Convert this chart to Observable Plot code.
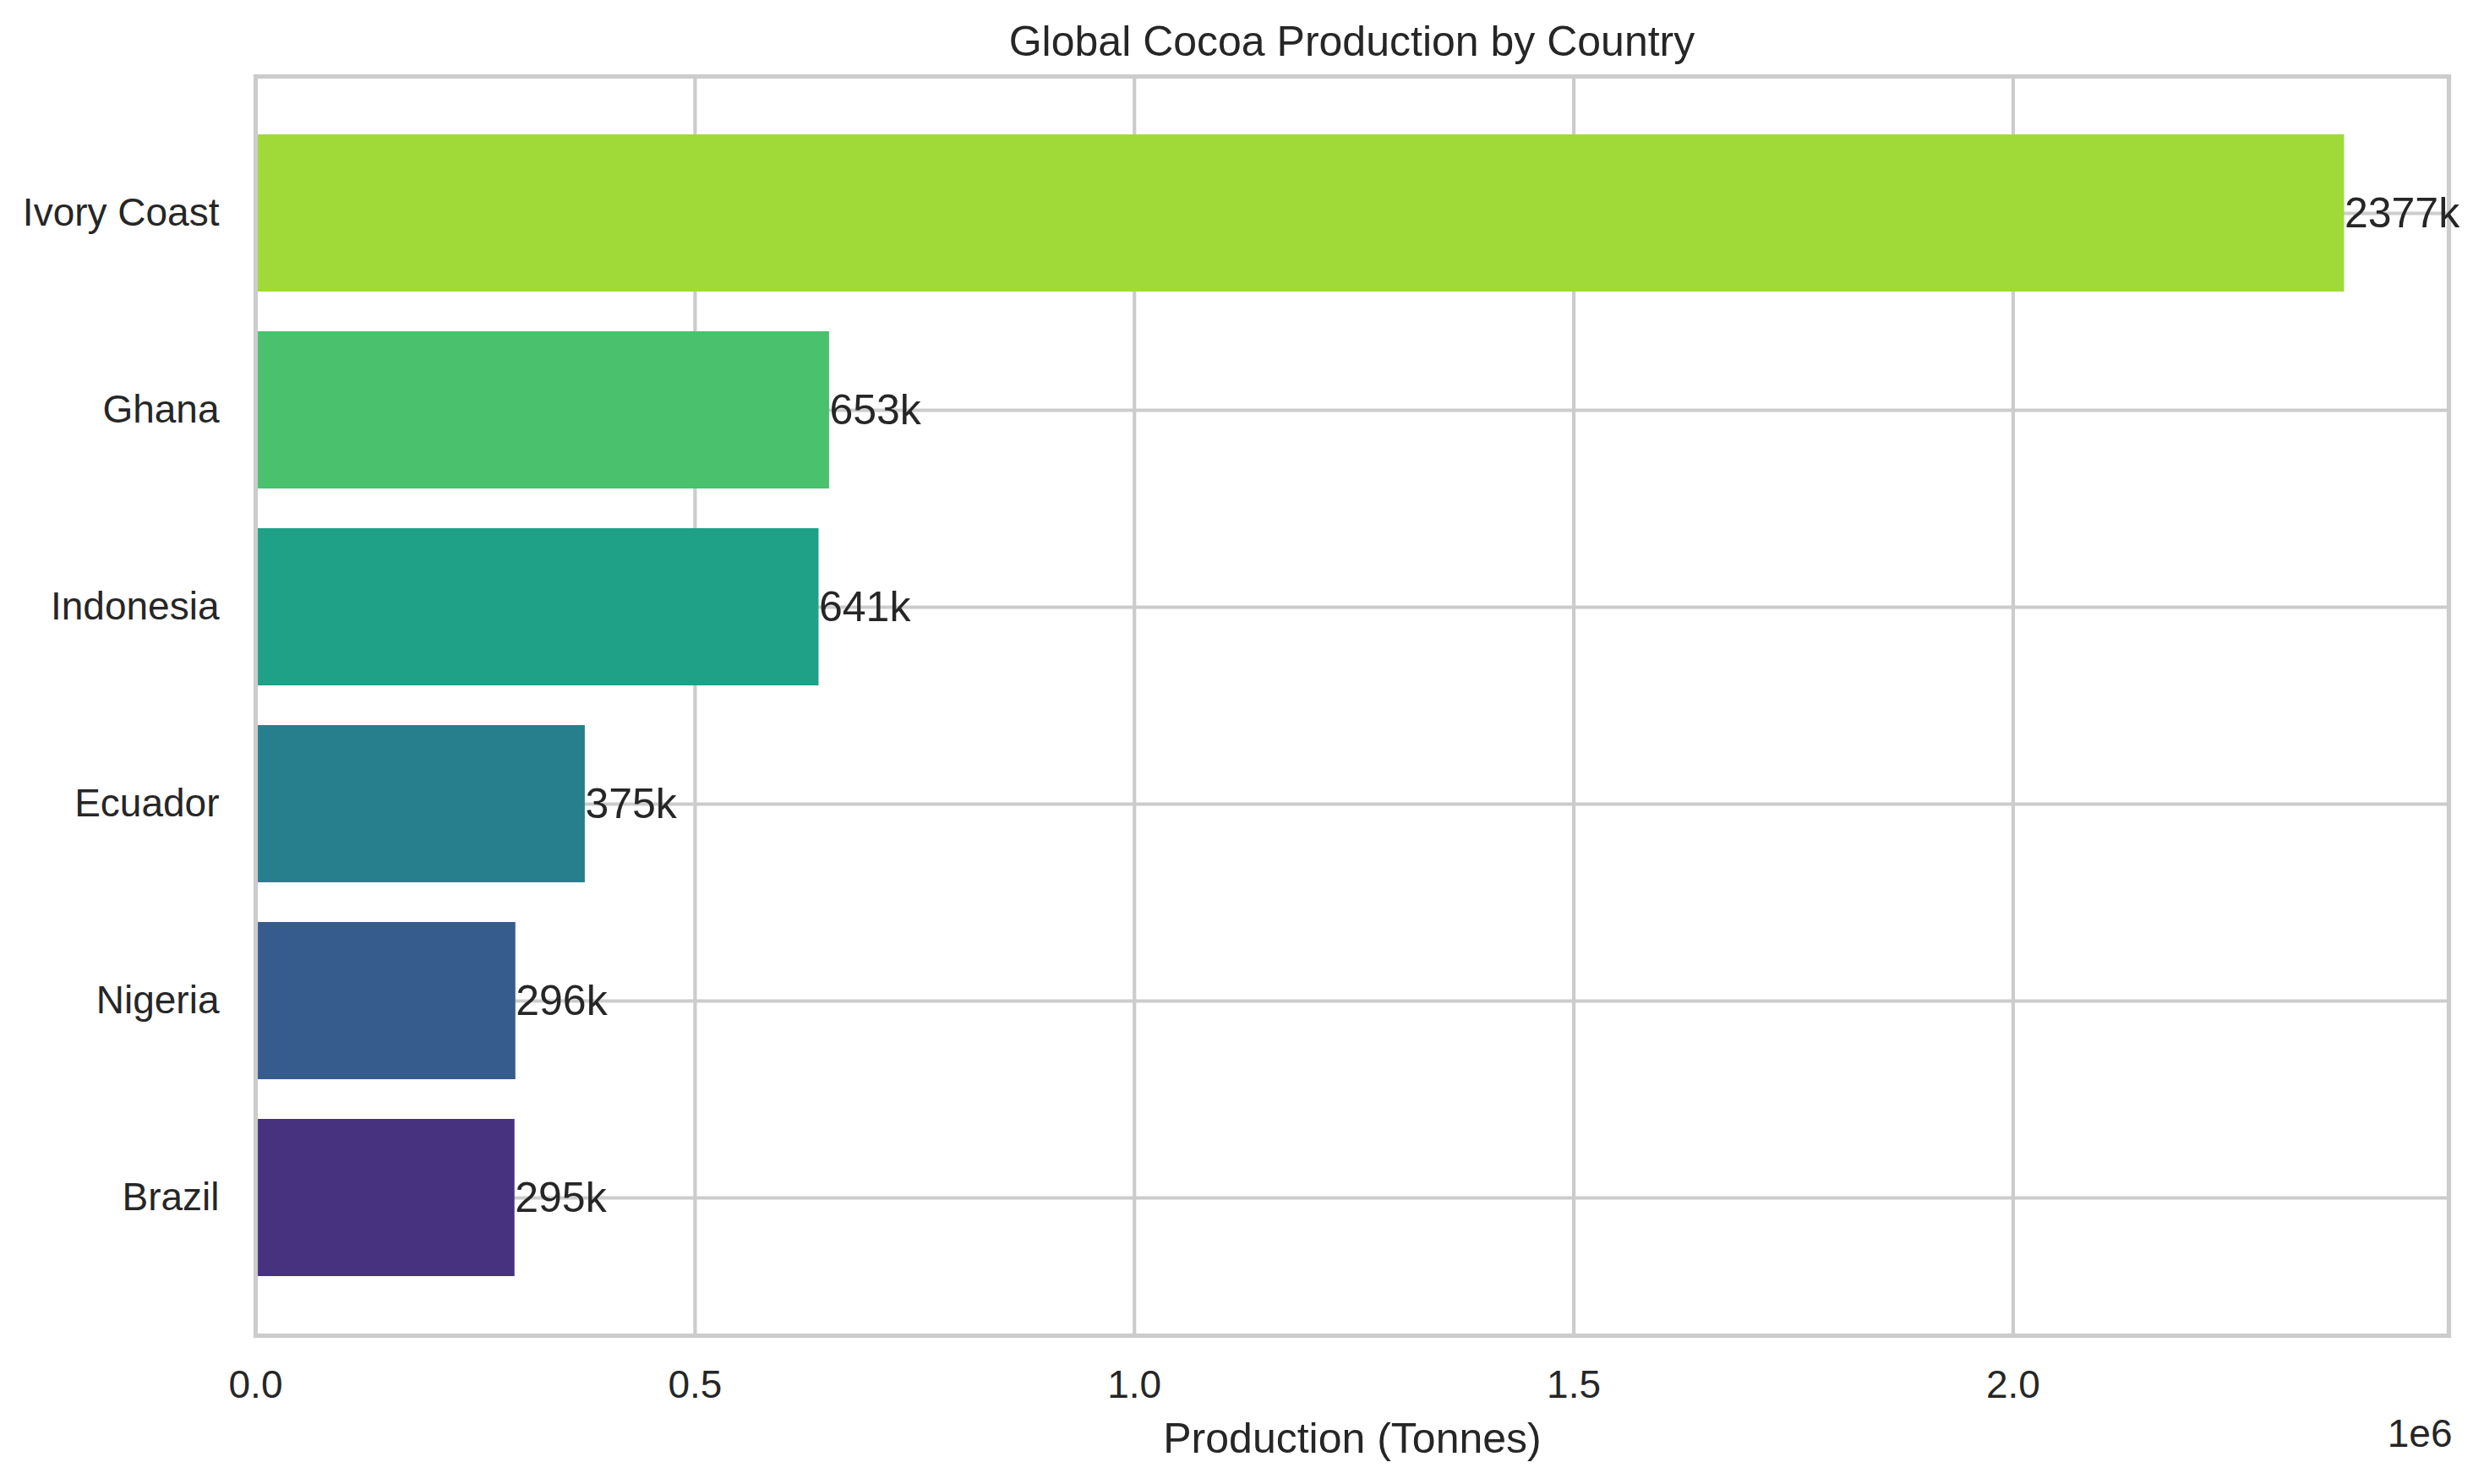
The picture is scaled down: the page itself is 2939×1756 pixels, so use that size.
<!DOCTYPE html>
<html><head><meta charset="utf-8">
<script src="https://cdn.jsdelivr.net/npm/d3@7"></script>
<script src="https://cdn.jsdelivr.net/npm/@observablehq/plot@0.6"></script>
<style>
body{margin:0;background:#fff;font-family:"Liberation Sans",Arial,sans-serif;}
#title{box-sizing:border-box;width:2939px;height:80px;padding:24px 42px 0 302px;font-size:50px;line-height:50px;text-align:center;color:#262626;white-space:nowrap;}
#chart svg{display:block;}
</style>
</head><body>
<div id="title">Global Cocoa Production by Country</div>
<div id="chart"></div>
<script>
const countries = ["Ivory Coast","Ghana","Indonesia","Ecuador","Nigeria","Brazil"];
const production = [2377000,653000,641000,375000,296000,295000];
const xTicks = [0,500000,1000000,1500000,2000000];
const xTickLabels = ["0.0","0.5","1.0","1.5","2.0"];
const barColors = ["#a0da39","#4ac16d","#1fa187","#277f8e","#365c8d","#46327e"];
const xLabel = "Production (Tonnes)";
const xOffsetLabel = "1e6";

const data = countries.map((c,i)=>({country:c, value:production[i], color:barColors[i]}));
const xMax = d3.max(production)*1.05;
const ink = "#262626";
const gridColor = "#cccccc";

const chart = Plot.plot({
  width:2939, height:1676,
  marginTop:10, marginBottom:176, marginLeft:302, marginRight:42,
  style:{fontFamily:'"Liberation Sans", Arial, sans-serif', fontSize:"46px", color:ink, background:"#fff"},
  x:{domain:[0,xMax], label:null},
  y:{domain:countries, paddingInner:0.2, paddingOuter:0.29, label:null},
  color:{type:"identity"},
  marks:[
    Plot.gridX(xTicks,{stroke:gridColor,strokeOpacity:1,strokeWidth:4.2}),
    Plot.gridY(countries,{stroke:gridColor,strokeOpacity:1,strokeWidth:4.2}),
    Plot.barX(data,{x:"value", y:"country", fill:"color"}),
    Plot.frame({stroke:gridColor,strokeWidth:5.2}),
    Plot.axisX(xTicks,{tickSize:0,tickPadding:41,tickFormat:d=>xTickLabels[xTicks.indexOf(d)],label:null,fontSize:46}),
    Plot.axisY({tickSize:0,tickPadding:43,label:null,fontSize:46}),
    Plot.text(data,{x:"value",y:"country",text:d=>`${Math.round(d.value/1000)}k`,textAnchor:"start",dx:0,fontSize:50,fill:ink}),
    Plot.text([xLabel],{frameAnchor:"bottom",lineAnchor:"middle",dy:122,fontSize:50,fill:ink}),
    Plot.text([xOffsetLabel],{frameAnchor:"bottom-right",lineAnchor:"middle",textAnchor:"end",dx:4,dy:117,fontSize:46,fill:ink})
  ]
});
document.getElementById("chart").append(chart);
</script>
</body></html>
